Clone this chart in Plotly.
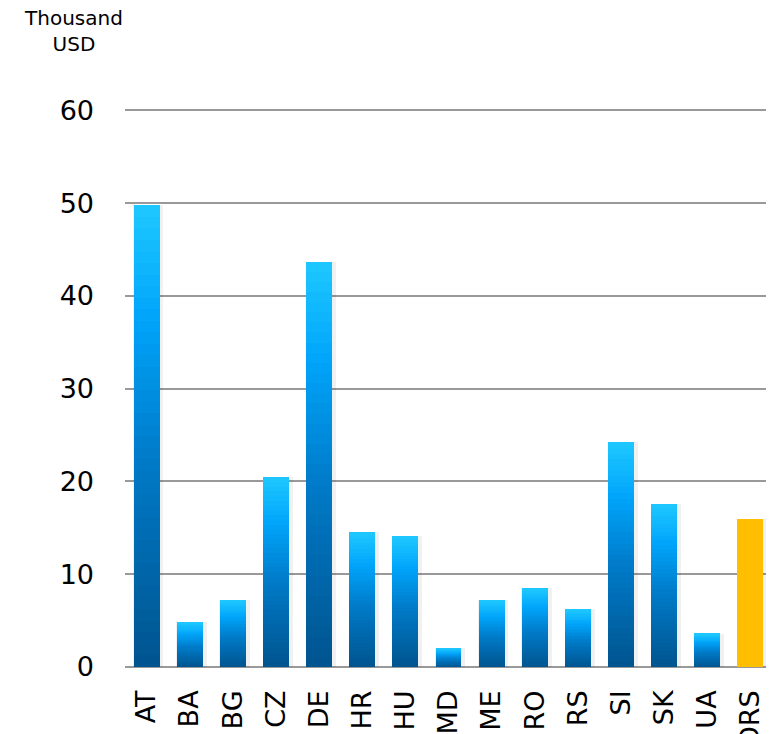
import plotly.graph_objects as go

categories = ["AT", "BA", "BG", "CZ", "DE", "HR", "HU", "MD", "ME", "RO", "RS", "SI", "SK", "UA", "DRS"]
values = [49.75, 4.8, 7.2, 20.45, 43.7, 14.5, 14.1, 2.0, 7.2, 8.5, 6.2, 24.2, 17.6, 3.6, 16.0]
highlight = ["DRS"]
y_ticks = [0, 10, 20, 30, 40, 50, 60]

# page body has an 8px margin, so the figure is shifted by 8px
OFF = 8
W, H = 774 - OFF, 734 - OFF
PX_PER_UNIT = 9.28
Y0 = 666.7
YMAX = 61
L, R = 124.5 - OFF, 1.5
T = Y0 - YMAX * PX_PER_UNIT - OFF
B = 734 - Y0

# gradient stops (fraction from bottom, rgb)
stops = [(0.0, (0, 84, 142)), (0.45, (0, 122, 200)), (0.75, (0, 164, 250)), (1.0, (30, 200, 255))]
yellow = "#FFBE00"


def interp(f):
    for (f0, c0), (f1, c1) in zip(stops[:-1], stops[1:]):
        if f <= f1:
            t = (f - f0) / (f1 - f0)
            return "rgb(%d,%d,%d)" % tuple(round(a + (b - a) * t) for a, b in zip(c0, c1))
    return "rgb(%d,%d,%d)" % stops[-1][1]


N = 40
fig = go.Figure()

# subtle shadow (drawn underneath)
fig.add_trace(go.Bar(
    x=categories, y=values, xaxis="x", width=0.7, offset=-0.31,
    marker=dict(color="rgba(0,0,0,0.055)", line=dict(width=0)), hoverinfo="skip", showlegend=False))

for k in range(N):
    f = (k + 0.5) / N
    col = interp(f)
    fig.add_trace(go.Bar(
        x=categories, y=[v / N for v in values], width=0.6, xaxis="x2",
        marker=dict(color=[yellow if c in highlight else col for c in categories], line=dict(width=0)),
        showlegend=False, hoverinfo="skip"))

plot_h = YMAX * PX_PER_UNIT
fig.update_layout(
    width=W, height=H, barmode="stack", bargap=0.4,
    margin=dict(l=L, r=R, t=T, b=B, autoexpand=False),
    plot_bgcolor="white", paper_bgcolor="white",
    font=dict(family="DejaVu Sans", color="black"),
    xaxis=dict(type="category", categoryorder="array", categoryarray=categories,
               tickangle=-90, tickfont=dict(size=27), showgrid=False, showline=False,
               ticks="", ticklabelstandoff=17, automargin=False, range=[-0.5, 14.5]),
    xaxis2=dict(type="category", categoryorder="array", categoryarray=categories,
                overlaying="x", visible=False, range=[-0.5, 14.5]),
    yaxis=dict(range=[0, YMAX], tickvals=y_ticks, tickfont=dict(size=27), showgrid=True,
               gridcolor="#999999", gridwidth=2, zeroline=True, zerolinecolor="#999999",
               zerolinewidth=2, showline=False, ticks="", ticklabelstandoff=30, automargin=False),
    annotations=[dict(text="Thousand<br>USD", xref="paper", yref="paper",
                      x=(73 - 124.5) / (774 - 124.5 - R), y=(Y0 - 31) / plot_h,
                      xanchor="center", yanchor="middle", showarrow=False, borderpad=0,
                      font=dict(size=20, family="DejaVu Sans", color="black"))],
)

fig.write_html("out.html")
